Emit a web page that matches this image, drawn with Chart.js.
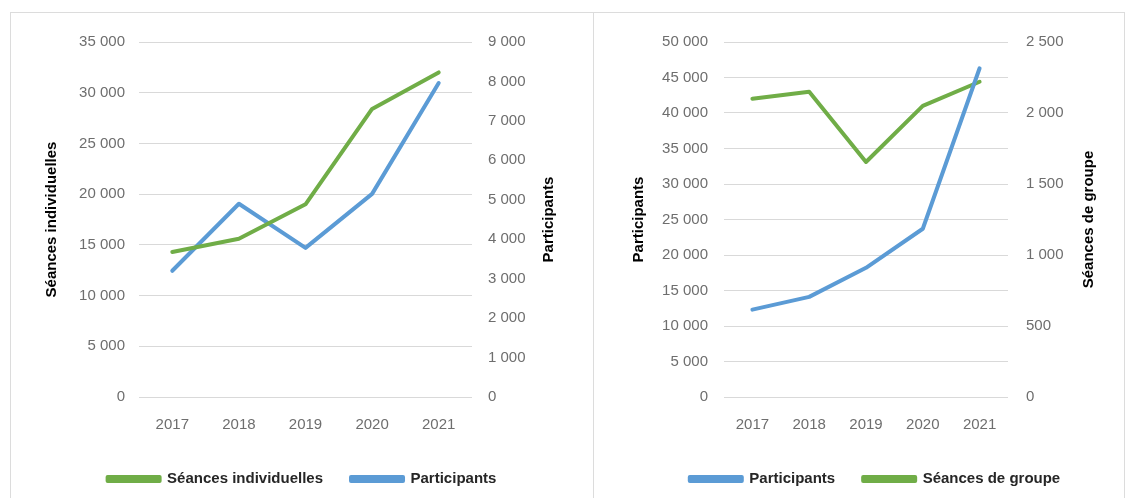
<!DOCTYPE html>
<html lang="fr">
<head>
<meta charset="utf-8">
<title>Séances et participants 2017-2021</title>
<script src="https://cdn.jsdelivr.net/npm/chart.js@4.4.1/dist/chart.umd.min.js"></script>
<style>
    html, body {
        margin: 0;
        padding: 0;
        background: #ffffff;
        width: 1127px;
        height: 498px;
        overflow: hidden;
    }
    .panel {
        position: absolute;
        top: 12px;
        height: 488px;
        box-sizing: border-box;
        border: 1px solid #dcdcdc;
        background: #ffffff;
    }
    #panel-left { left: 10px; width: 584px; }
    #panel-right { left: 593px; width: 532px; }
    canvas { display: block; }
</style>
</head>
<body>
<div class="panel" id="panel-left"><canvas id="chart-individuel" width="582" height="486"></canvas></div>
<div class="panel" id="panel-right"><canvas id="chart-groupe" width="530" height="486"></canvas></div>

<script>
// Years on the x axis
const years = ['2017', '2018', '2019', '2020', '2021'];

// Individual sessions chart
const seancesIndividuelles = [14300, 15600, 19000, 28400, 32000];
const participantsIndividuel = [3200, 4900, 3780, 5150, 7960];

// Group sessions chart
const participantsGroupe = [12300, 14100, 18200, 23700, 46300];
const seancesGroupe = [2100, 2150, 1655, 2050, 2220];

// Axis ranges
const leftAxisIndividuel = { max: 35000, step: 5000 };
const rightAxisIndividuel = { max: 9000, step: 1000 };
const leftAxisGroupe = { max: 50000, step: 5000 };
const rightAxisGroupe = { max: 2500, step: 500 };

const GREEN = '#70ad47';
const BLUE = '#5b9bd5';

Chart.defaults.font.family = "'Liberation Sans', Arial, sans-serif";
Chart.defaults.font.size = 15;
Chart.defaults.color = '#6e6e6e';

// "35000" -> "35 000"
function formatThousands(value) {
    return String(value).replace(/\B(?=(\d{3})+(?!\d))/g, ' ');
}

// Rotated axis titles, both reading bottom to top
const sideTitles = {
    id: 'sideTitles',
    afterDraw(chart, args, opts) {
        const { ctx, chartArea } = chart;
        const cy = (chartArea.top + chartArea.bottom) / 2;
        ctx.save();
        ctx.font = "bold 15px 'Liberation Sans', Arial, sans-serif";
        ctx.fillStyle = '#000000';
        ctx.textAlign = 'center';
        ctx.textBaseline = 'middle';
        [
            { text: opts.left, x: chartArea.left - opts.leftOffset },
            { text: opts.right, x: chartArea.right + opts.rightOffset }
        ].forEach(t => {
            ctx.save();
            ctx.translate(t.x, cy);
            ctx.rotate(-Math.PI / 2);
            ctx.fillText(t.text, 0, 0);
            ctx.restore();
        });
        ctx.restore();
    }
};

function lineDataset(label, data, color, axis) {
    return {
        label: label,
        data: data,
        yAxisID: axis,
        borderColor: color,
        backgroundColor: color,
        borderWidth: 4,
        borderJoinStyle: 'round',
        borderCapStyle: 'round',
        pointRadius: 0,
        pointHoverRadius: 0,
        tension: 0
    };
}

function buildOptions(cfg) {
    return {
        responsive: false,
        animation: false,
        devicePixelRatio: 1,
        layout: {
            padding: { top: 29, bottom: 2.5, left: cfg.padLeft, right: 0 }
        },
        scales: {
            x: {
                offset: true,
                grid: { display: false, drawTicks: false },
                border: { display: false },
                ticks: { padding: 19 },
                afterFit(scale) { scale.height = 46.5; }
            },
            y: {
                position: 'left',
                min: 0,
                max: cfg.left.max,
                ticks: {
                    stepSize: cfg.left.step,
                    padding: cfg.leftPad,
                    callback: v => formatThousands(v)
                },
                grid: { color: '#d9d9d9', lineWidth: 1, drawTicks: false },
                border: { display: false },
                afterFit(scale) { scale.width = cfg.leftWidth; }
            },
            y1: {
                position: 'right',
                min: 0,
                max: cfg.right.max,
                ticks: {
                    stepSize: cfg.right.step,
                    padding: cfg.rightPad,
                    callback: v => formatThousands(v)
                },
                grid: { display: false, drawTicks: false },
                border: { display: false },
                afterFit(scale) { scale.width = cfg.rightWidth; }
            }
        },
        plugins: {
            legend: {
                position: 'bottom',
                labels: {
                    boxWidth: 52,
                    boxHeight: 4,
                    padding: 28,
                    color: '#262626',
                    font: { weight: 'bold', size: 15 }
                }
            },
            tooltip: { enabled: false },
            sideTitles: cfg.titles
        }
    };
}

// Left chart: individual sessions and participants
new Chart(document.getElementById('chart-individuel'), {
    type: 'line',
    data: {
        labels: years,
        datasets: [
            lineDataset('Séances individuelles', seancesIndividuelles, GREEN, 'y'),
            lineDataset('Participants', participantsIndividuel, BLUE, 'y1')
        ]
    },
    options: buildOptions({
        padLeft: 0,
        left: leftAxisIndividuel,
        right: rightAxisIndividuel,
        leftWidth: 128,
        rightWidth: 121,
        leftPad: 14,
        rightPad: 16,
        titles: { left: 'Séances individuelles', right: 'Participants', leftOffset: 87, rightOffset: 77 }
    }),
    plugins: [sideTitles]
});

// Right chart: group participants and group sessions
new Chart(document.getElementById('chart-groupe'), {
    type: 'line',
    data: {
        labels: years,
        datasets: [
            lineDataset('Participants', participantsGroupe, BLUE, 'y'),
            lineDataset('Séances de groupe', seancesGroupe, GREEN, 'y1')
        ]
    },
    options: buildOptions({
        padLeft: 32,
        left: leftAxisGroupe,
        right: rightAxisGroupe,
        leftWidth: 98,
        rightWidth: 116,
        leftPad: 16,
        rightPad: 18,
        titles: { left: 'Participants', right: 'Séances de groupe', leftOffset: 85, rightOffset: 81 }
    }),
    plugins: [sideTitles]
});
</script>
</body>
</html>
